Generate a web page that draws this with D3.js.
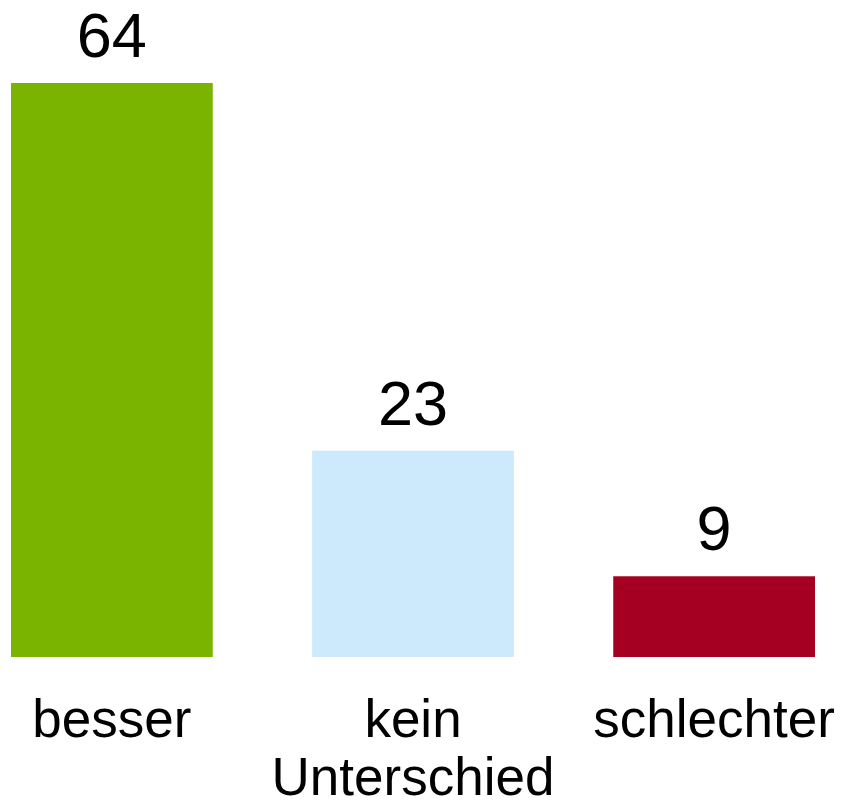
<!DOCTYPE html>
<html>
<head>
<meta charset="utf-8">
<script src="https://d3js.org/d3.v7.min.js"></script>
<style>
  body { margin: 0; background: #fff; }
  text { font-family: "Liberation Sans", Arial, Helvetica, sans-serif; fill: #000; }
</style>
</head>
<body>
<div id="chart-area"></div>
<script>
// Data
var categories = ["besser", "kein Unterschied", "schlechter"];
var labelLines = [["besser"], ["kein", "Unterschied"], ["schlechter"]];
var values = [64, 23, 9];
var colors = ["#7ab300", "#cceafb", "#a50021"];

var width = 841, height = 802;
var baseline = 657;

var svg = d3.select("#chart-area")
    .append("svg")
        .attr("width", width)
        .attr("height", height);

// Scales
var x = d3.scaleBand()
    .domain(categories)
    .range([11, 815])
    .paddingInner(0.33)
    .paddingOuter(0);
var y = d3.scaleLinear()
    .domain([0, 64])
    .range([baseline, 83]);

// Bars
svg.selectAll("rect.bar")
    .data(values)
    .enter().append("rect")
        .attr("class", "bar")
        .attr("x", function(d, i){ return x(categories[i]); })
        .attr("y", function(d){ return y(d); })
        .attr("width", x.bandwidth())
        .attr("height", function(d){ return baseline - y(d); })
        .attr("fill", function(d, i){ return colors[i]; });

// Value labels
svg.selectAll("text.value")
    .data(values)
    .enter().append("text")
        .attr("class", "value")
        .attr("x", function(d, i){ return x(categories[i]) + x.bandwidth() / 2; })
        .attr("y", function(d){ return y(d) - 26; })
        .attr("text-anchor", "middle")
        .attr("font-size", "63px")
        .text(function(d){ return d; });

// Category labels
var catLabels = svg.selectAll("text.cat")
    .data(categories)
    .enter().append("text")
        .attr("class", "cat")
        .attr("text-anchor", "middle")
        .attr("font-size", "53px")
        .attr("y", 737);

catLabels.each(function(c, i){
    var t = d3.select(this);
    labelLines[i].forEach(function(line, j){
        t.append("tspan")
            .attr("x", x(c) + x.bandwidth() / 2)
            .attr("dy", j === 0 ? 0 : 58)
            .text(line);
    });
});
</script>
</body>
</html>
